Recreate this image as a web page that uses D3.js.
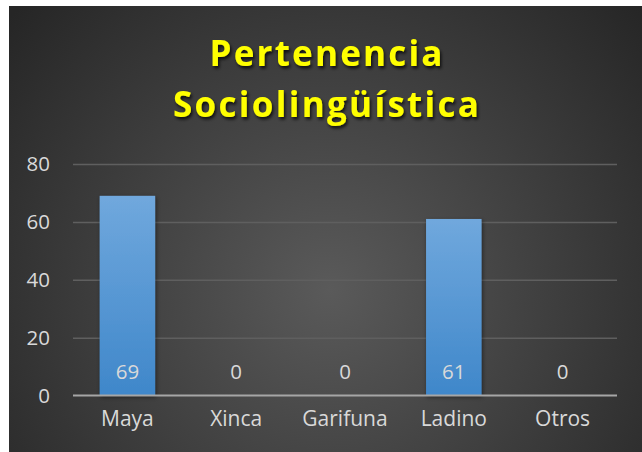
<!DOCTYPE html>
<html><head><meta charset="utf-8">
<script src="https://cdn.jsdelivr.net/npm/d3@7"></script>
<style>html,body{margin:0;padding:0;background:#fff;}svg{display:block;}</style>
</head><body>
<script>
const categories = ["Maya", "Xinca", "Garifuna", "Ladino", "Otros"];
const values = [69, 0, 0, 61, 0];
const yTicks = [0, 20, 40, 60, 80];
const titleLines = ["Pertenencia", "Sociolingüística"];

const W = 642, H = 452;
const svg = d3.select("body").append("svg").attr("width", W).attr("height", H);
const defs = svg.append("defs");

const bg = defs.append("radialGradient").attr("id", "bg")
  .attr("gradientUnits", "userSpaceOnUse")
  .attr("cx", 330).attr("cy", 290).attr("r", 420);
bg.append("stop").attr("offset", "0%").attr("stop-color", "#5a5a5a");
bg.append("stop").attr("offset", "100%").attr("stop-color", "#262626");

const bar = defs.append("linearGradient").attr("id", "bar").attr("x1", 0).attr("y1", 0).attr("x2", 0).attr("y2", 1);
bar.append("stop").attr("offset", "0%").attr("stop-color", "#70a8dd");
bar.append("stop").attr("offset", "100%").attr("stop-color", "#3f87ca");

const sh = defs.append("filter").attr("id", "tsh").attr("x", "-10%").attr("y", "-20%").attr("width", "120%").attr("height", "150%");
sh.append("feDropShadow").attr("dx", 1.5).attr("dy", 2.5).attr("stdDeviation", 1.8).attr("flood-color", "#000").attr("flood-opacity", 0.75);
const bsh = defs.append("filter").attr("id", "bsh").attr("x", "-20%").attr("y", "-10%").attr("width", "140%").attr("height", "120%");
bsh.append("feDropShadow").attr("dx", 1).attr("dy", 1.5).attr("stdDeviation", 2).attr("flood-color", "#000").attr("flood-opacity", 0.5);

svg.append("rect").attr("x", 9).attr("y", 6).attr("width", W - 9).attr("height", H - 6).attr("fill", "url(#bg)");

const margin = {left: 73, right: 25, top: 164, bottom: 56.5};
const x = d3.scaleBand().domain(categories).range([margin.left, W - margin.right]).paddingInner(0.49).paddingOuter(0.245);
const y = d3.scaleLinear().domain([0, 80]).range([H - margin.bottom, margin.top]);

// gridlines
const grid = svg.append("g")
  .call(d3.axisLeft(y).tickValues(yTicks.filter(d => d > 0)).tickSize(-(W - margin.right - margin.left)).tickFormat(""))
  .attr("transform", `translate(${margin.left},0)`);
grid.select(".domain").remove();
grid.selectAll("line").attr("stroke", "#5f5f5f").attr("stroke-width", 1.5);

// y labels
const ya = svg.append("g").attr("transform", `translate(${margin.left},0)`)
  .call(d3.axisLeft(y).tickValues(yTicks).tickSize(0).tickPadding(23));
ya.select(".domain").remove();
ya.selectAll("text").attr("fill", "#d9d9d9").attr("font-family", "'Open Sans', sans-serif").attr("font-size", 20.5);

// bars
svg.append("g").selectAll("rect").data(categories.map((c, i) => ({c, v: values[i]}))).join("rect")
  .attr("x", d => x(d.c)).attr("width", x.bandwidth())
  .attr("y", d => y(d.v)).attr("height", d => y(0) - y(d.v))
  .attr("fill", "url(#bar)").attr("filter", "url(#bsh)");

// axis line
svg.append("line").attr("x1", margin.left).attr("x2", W - margin.right)
  .attr("y1", y(0)).attr("y2", y(0)).attr("stroke", "#a6a6a6").attr("stroke-width", 2.2);

// data labels
svg.append("g").selectAll("text").data(categories.map((c, i) => ({c, v: values[i]}))).join("text")
  .attr("x", d => x(d.c) + x.bandwidth() / 2).attr("y", 378.5)
  .attr("text-anchor", "middle").attr("fill", "#d9d9d9")
  .attr("font-family", "'Open Sans', sans-serif").attr("font-size", 20.5)
  .text(d => d.v);

// x labels
const xa = svg.append("g").attr("transform", `translate(0,${y(0)})`)
  .call(d3.axisBottom(x).tickSize(0).tickPadding(16));
xa.select(".domain").remove();
xa.selectAll("text").attr("fill", "#d9d9d9").attr("font-family", "'Open Sans', sans-serif").attr("font-size", 21);

// title
const tw = [233, 306], tb = [66, 117];
svg.append("g").attr("filter", "url(#tsh)").selectAll("text").data(titleLines).join("text")
  .attr("x", 326).attr("y", (d, i) => tb[i])
  .attr("text-anchor", "middle").attr("fill", "#ffff00")
  .attr("font-family", "'Open Sans', sans-serif").attr("font-weight", "bold").attr("font-size", 35)
  .attr("textLength", (d, i) => tw[i]).attr("lengthAdjust", "spacing")
  .text(d => d);
</script>
</body></html>
